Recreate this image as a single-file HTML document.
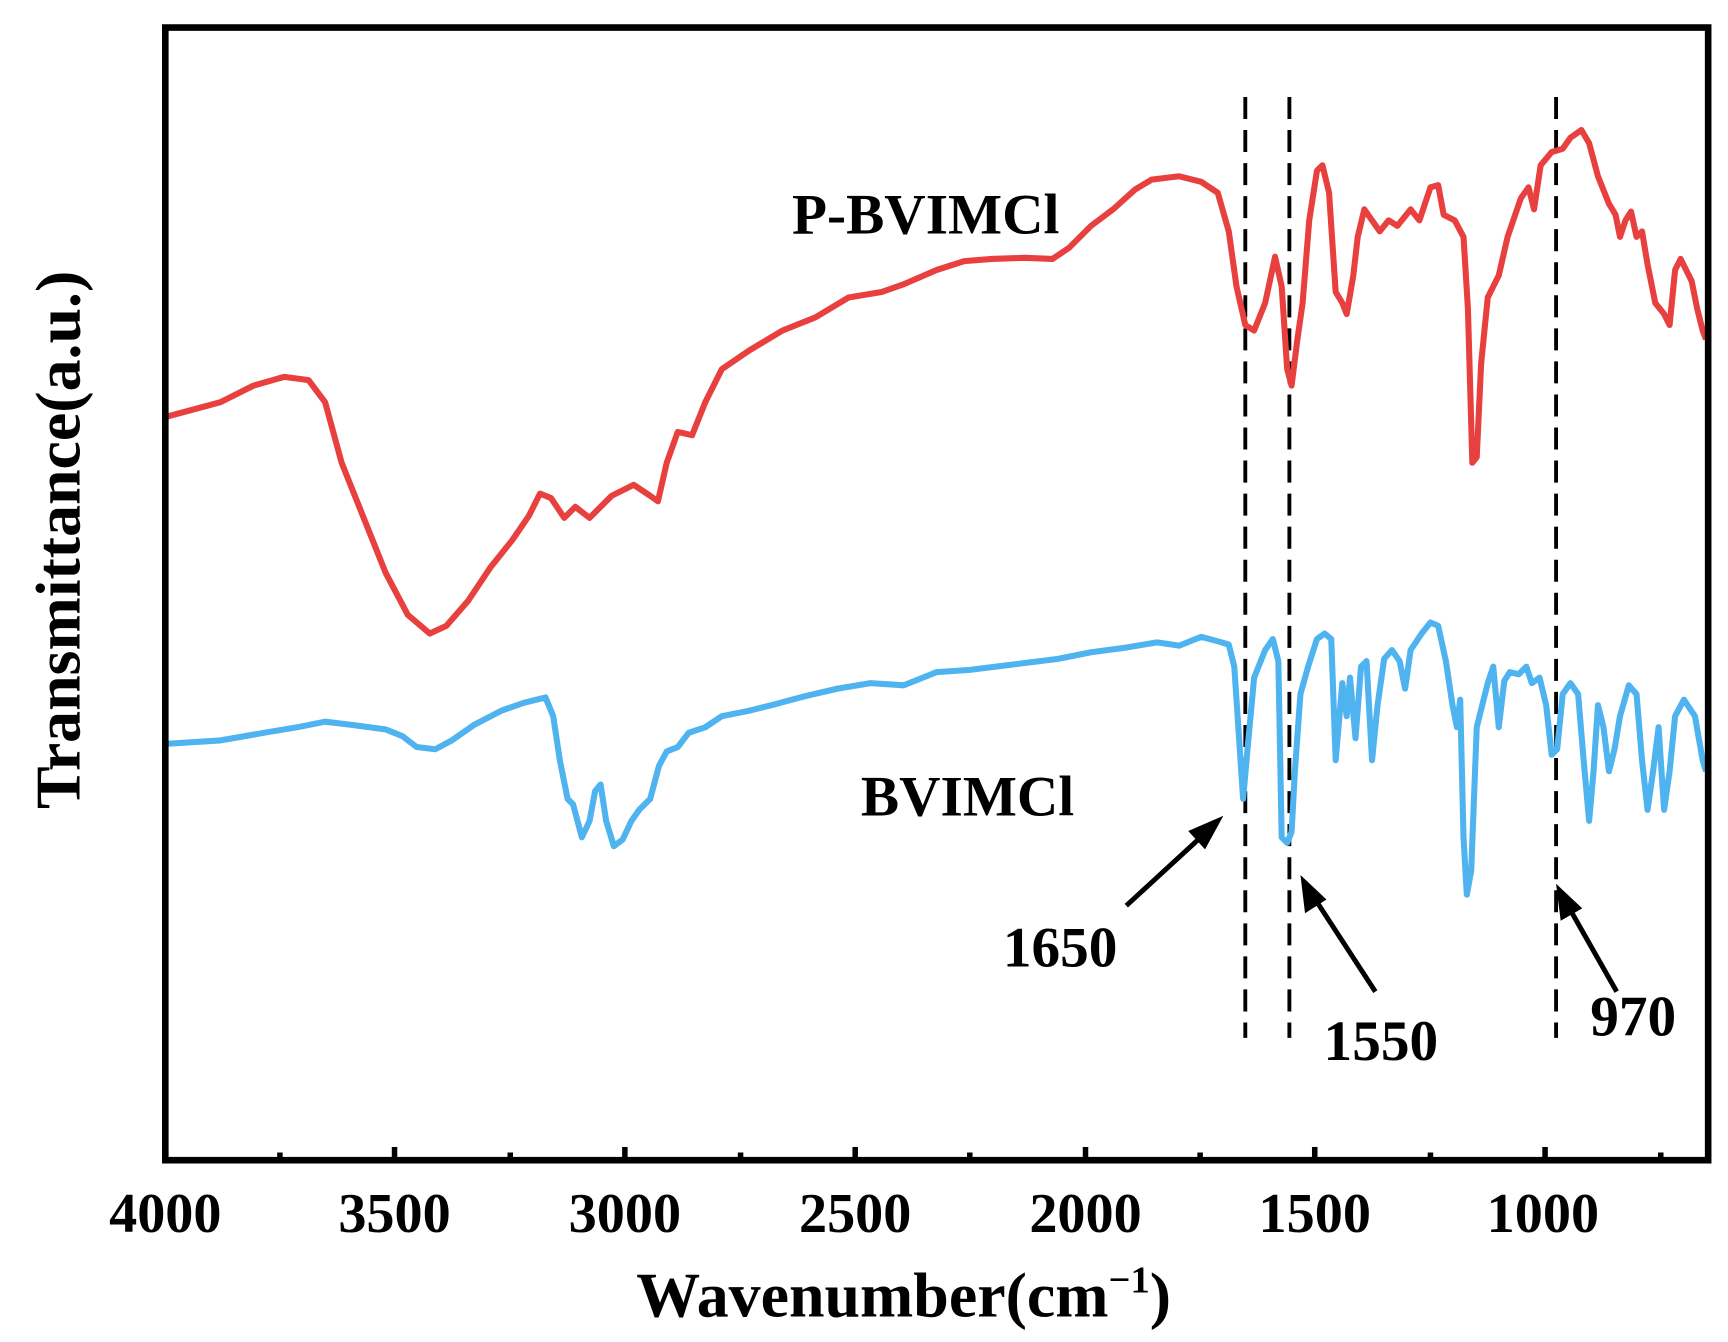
<!DOCTYPE html>
<html><head><meta charset="utf-8"><style>html,body{margin:0;padding:0;background:#fff}svg{display:block}</style></head><body>
<svg width="1728" height="1342" viewBox="0 0 1568 1218" preserveAspectRatio="none" xmlns="http://www.w3.org/2000/svg" font-family="Liberation Serif, serif" font-weight="bold">
<g stroke="#000" stroke-width="3.5" stroke-dasharray="20,10">
<line x1="1130" y1="88" x2="1130" y2="942"/><line x1="1170" y1="88" x2="1170" y2="942"/><line x1="1412" y1="88" x2="1412" y2="942"/>
</g>
<polyline fill="none" stroke="#e8403f" stroke-width="5.5" stroke-linejoin="round" points="152,378 200,365 230,350 258,342 280,345 295,365 310,420 330,470 350,520 370,558 390,575 405,568 425,545 445,515 465,490 480,468 490,448 500,452 512,470 522,460 535,470 555,450 575,440 590,450 597,455 605,420 615,392 628,395 640,365 655,335 680,318 710,300 740,288 770,270 800,265 820,258 850,245 875,237 900,235 930,234 955,235 970,225 990,205 1010,190 1030,172 1045,163 1070,160 1090,165 1105,175 1115,210 1122,260 1130,295 1138,300 1148,275 1157,233 1163,260 1168,335 1172,350 1177,310 1182,275 1188,200 1195,155 1200,150 1206,175 1212,265 1218,275 1222,285 1228,250 1232,215 1238,190 1245,200 1252,210 1260,200 1268,205 1280,190 1288,200 1293,185 1298,170 1305,168 1310,195 1320,200 1328,215 1332,280 1336,420 1340,415 1344,330 1350,270 1360,250 1368,215 1380,180 1387,170 1392,190 1398,150 1408,138 1418,135 1425,125 1435,118 1442,130 1450,160 1460,185 1466,195 1470,215 1475,200 1480,192 1485,215 1490,210 1495,240 1502,275 1510,285 1515,295 1520,245 1525,235 1535,255 1540,280 1545,300 1548,308"/>
<polyline fill="none" stroke="#4fb3f0" stroke-width="5.5" stroke-linejoin="round" points="152,675 200,672 240,665 270,660 295,655 320,658 350,662 365,668 378,678 395,680 410,672 430,658 455,645 475,638 495,633 502,650 508,690 515,725 520,730 528,760 535,745 540,718 545,712 550,745 557,768 565,762 573,745 580,735 590,725 598,695 605,682 615,678 625,665 640,660 655,650 680,645 700,640 730,632 760,625 790,620 820,622 850,610 880,608 920,603 960,598 990,592 1020,588 1050,583 1070,586 1090,578 1105,582 1115,585 1120,605 1125,680 1128,725 1132,680 1138,615 1148,590 1155,580 1160,600 1163,760 1168,765 1172,755 1175,700 1180,630 1187,605 1195,580 1202,575 1208,580 1212,690 1218,620 1222,650 1225,615 1230,670 1235,605 1240,600 1245,690 1250,640 1256,598 1263,590 1270,600 1275,625 1280,590 1290,575 1298,565 1305,568 1312,600 1318,640 1322,660 1325,635 1328,760 1331,812 1335,790 1340,660 1345,640 1350,620 1355,605 1360,660 1365,618 1370,610 1378,612 1385,605 1390,620 1397,615 1403,640 1408,685 1413,680 1418,630 1425,620 1432,630 1437,690 1442,745 1446,700 1450,640 1455,660 1460,700 1465,680 1470,650 1478,622 1485,630 1490,690 1495,735 1500,700 1505,660 1510,735 1515,700 1520,650 1528,635 1538,650 1545,690 1548,700"/>
<rect x="150" y="25" width="1400" height="1028" fill="none" stroke="#000" stroke-width="6"/>
<g stroke="#000" stroke-width="5">
<line x1="358" y1="1053" x2="358" y2="1041"/><line x1="567" y1="1053" x2="567" y2="1041"/><line x1="776" y1="1053" x2="776" y2="1041"/><line x1="985" y1="1053" x2="985" y2="1041"/><line x1="1193" y1="1053" x2="1193" y2="1041"/><line x1="1402" y1="1053" x2="1402" y2="1041"/>
<line x1="254" y1="1053" x2="254" y2="1046"/><line x1="463" y1="1053" x2="463" y2="1046"/><line x1="672" y1="1053" x2="672" y2="1046"/><line x1="880" y1="1053" x2="880" y2="1046"/><line x1="1089" y1="1053" x2="1089" y2="1046"/><line x1="1298" y1="1053" x2="1298" y2="1046"/><line x1="1507" y1="1053" x2="1507" y2="1046"/>
</g>
<g stroke="#000" stroke-width="4.5" fill="#000">
<line x1="1022" y1="822" x2="1096" y2="754"/><polygon points="1105,745 1082,755 1093,767"/>
<line x1="1248" y1="900" x2="1190" y2="811"/><polygon points="1183,800 1186,825 1200,816"/>
<line x1="1467" y1="900" x2="1421" y2="819"/><polygon points="1415,808 1418,832 1432,824"/>
</g>
<g font-size="51" text-anchor="middle" fill="#000">
<text x="150" y="1118">4000</text><text x="358" y="1118">3500</text><text x="567" y="1118">3000</text><text x="776" y="1118">2500</text><text x="985" y="1118">2000</text><text x="1193" y="1118">1500</text><text x="1400" y="1118">1000</text>
<text x="962" y="877" font-size="52">1650</text><text x="1253" y="962" font-size="52">1550</text><text x="1482" y="940" font-size="52">970</text>
<text x="840" y="212" font-size="52">P-BVIMCl</text><text x="878" y="740" font-size="52">BVIMCl</text>
<text x="820" y="1195" font-size="58">Wavenumber(cm<tspan dy="-22" font-size="35">−1</tspan><tspan dy="22">)</tspan></text>
<text transform="translate(72,490) rotate(-90)" font-size="58">Transmittance(a.u.)</text>
</g>
</svg>
</body></html>
